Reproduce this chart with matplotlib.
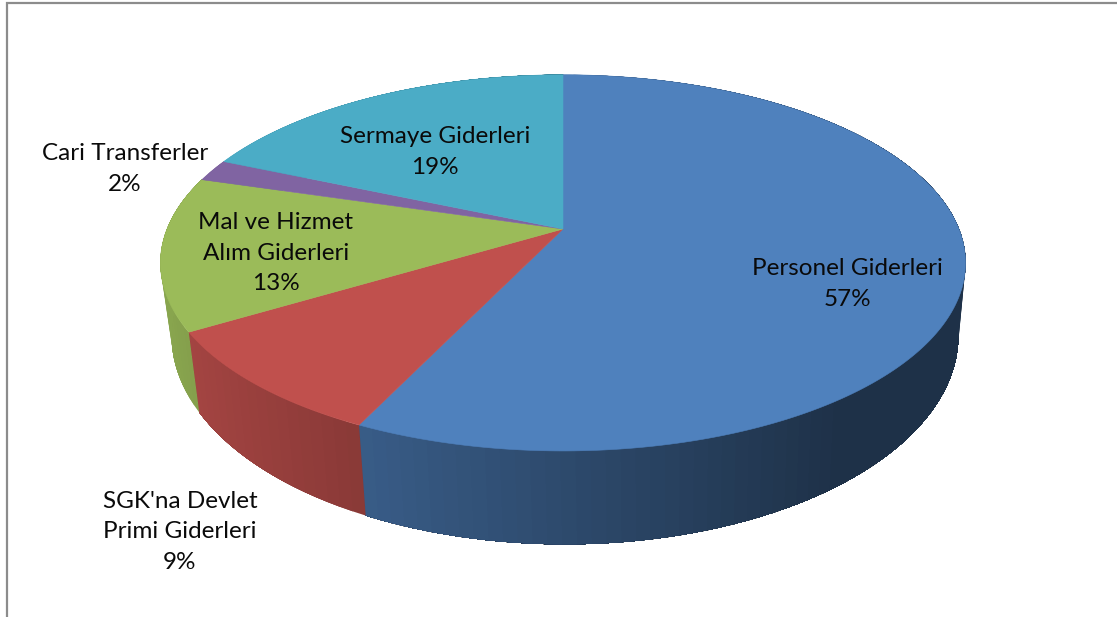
import numpy as np
import matplotlib
matplotlib.use('Agg')
import matplotlib.pyplot as plt
from matplotlib.collections import PolyCollection
from matplotlib.patches import Polygon

# slices, estimated from the seams; printed percent is what the chart shows
names = ['Personel Giderleri', "SGK'na Devlet\nPrimi Giderleri", 'Mal ve Hizmet\nAlım Giderleri',
         'Cari Transferler', 'Sermaye Giderleri']
values = [57.1, 9.3, 13.2, 1.9, 18.5]
percents = ['57%', '9%', '13%', '2%', '19%']
colors = ['#4F81BD', '#C0504D', '#9BBB59', '#8064A2', '#4BACC6']

plt.rcParams['font.family'] = ['Lato', 'DejaVu Sans']

# perspective of the disc, in pixels
TILT = 0.18
TOP = dict(cx=563, cy=229, a=396, b=182)
BOTTOM = dict(cx=565, cy=298, a=387, b=202)


def project(theta, cx, cy, a, b):
    # theta runs clockwise from 12 o'clock
    u, v = np.sin(theta), np.cos(theta)
    w = 1 + TILT * v
    return np.column_stack([cx + a * u / w, cy - b * v / w])


def side_shade(theta):
    return np.clip(0.575 - 0.325 * np.sin(theta), 0.38, 0.88)


fig = plt.figure(figsize=(11.17, 6.17), dpi=100)
ax = fig.add_axes([0, 0, 1, 1])
ax.set_xlim(0, 1117)
ax.set_ylim(617, 0)
ax.axis('off')

# frame, cut off by the right and bottom of the image
ax.plot([6.5, 6.5, 1117], [617, 3, 3], color='#8c8c8c', lw=1.6, solid_joinstyle='miter')

edges = np.radians(np.cumsum([0] + values) * 3.6)
for i in range(len(values)):
    n = max(int(values[i] * 2), 3)
    t = np.linspace(edges[i], edges[i + 1], n + 1)
    up = project(t, **TOP)
    lo = project(t, **BOTTOM)
    # every band runs to the far end of the slice, the next one paints over it,
    # so no white hairlines show between bands
    quads = [np.vstack([up[j:], lo[j:][::-1]]) for j in range(n)]
    base = np.array(matplotlib.colors.to_rgb(colors[i]))
    fc = [base * side_shade((t[j] + t[j + 1]) / 2) for j in range(n)]
    ax.add_collection(PolyCollection(quads, facecolors=fc, edgecolors='none', zorder=2))

for i in range(len(values)):
    t = np.linspace(edges[i], edges[i + 1], int(values[i] * 6) + 2)
    arc = project(t, **TOP)
    pts = np.vstack([[TOP['cx'], TOP['cy']], arc])
    ax.add_patch(Polygon(pts, closed=True, facecolor=colors[i], edgecolor=colors[i], lw=0.4, zorder=3))

label_x = [847, 180, 276, 125, 435]
label_y = [284, 532, 253, 169, 152]
for i in range(len(names)):
    ax.text(label_x[i], label_y[i], names[i] + '\n' + percents[i], ha='center', va='center',
            fontsize=17.5, linespacing=1.57, color='#0a0a0a', zorder=5)

fig.savefig('out.png', dpi=100)
